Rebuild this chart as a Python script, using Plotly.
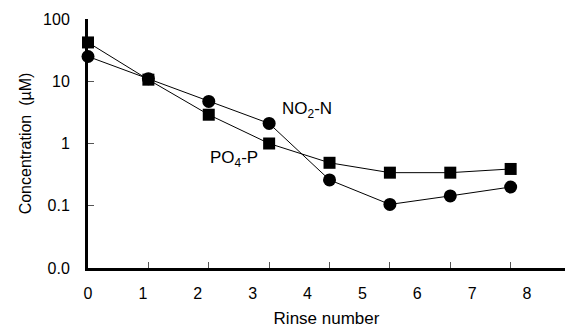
import plotly.graph_objects as go

rinse = [0, 1, 2, 3, 4, 5, 6, 7]
no2_n = [25, 11, 4.75, 2.1, 0.26, 0.105, 0.144, 0.20]
po4_p = [42, 10.6, 2.9, 1.0, 0.49, 0.34, 0.34, 0.39]
x_labels = [0, 1, 2, 3, 4, 5, 6, 7, 8]
y_tickvals = [100, 10, 1, 0.1, 0.01]
y_ticktext = ["100", "10", "1", "0.1", "0.0"]

# the printed label scale is slightly narrower than the rinse-point spacing
LABEL_SCALE = 54.9 / 60.4

FONT = "Liberation Sans, Arial, sans-serif"

fig = go.Figure()
fig.add_trace(go.Scatter(
    x=rinse, y=no2_n, mode="lines+markers", name="NO2-N",
    line=dict(color="black", width=1),
    marker=dict(symbol="circle", size=13, color="black"),
    cliponaxis=False, showlegend=False))
fig.add_trace(go.Scatter(
    x=rinse, y=po4_p, mode="lines+markers", name="PO4-P",
    line=dict(color="black", width=1),
    marker=dict(symbol="square", size=12, color="black"),
    cliponaxis=False, showlegend=False))

fig.update_layout(
    width=569, height=330,
    margin=dict(l=88, r=4, t=19, b=62),
    paper_bgcolor="white", plot_bgcolor="white",
    font=dict(family=FONT, size=16, color="black"),
    xaxis=dict(
        range=[0, 7.9], showgrid=False, zeroline=False,
        showline=True, linecolor="black", linewidth=3,
        tickvals=[k * LABEL_SCALE for k in x_labels],
        ticktext=[str(k) for k in x_labels],
        ticks="", ticklabelstandoff=9, tickfont=dict(size=16),
        minor=dict(tickvals=rinse[1:], ticks="inside", ticklen=6,
                   tickwidth=1, tickcolor="#555", showgrid=False),
        title=dict(text="Rinse number", font=dict(size=17), standoff=11),
    ),
    yaxis=dict(
        type="log", range=[-2, 2], showgrid=False, zeroline=False,
        showline=True, linecolor="black", linewidth=3,
        tickvals=y_tickvals, ticktext=y_ticktext, ticks="",
        ticklabelstandoff=12, tickfont=dict(size=16),
        minor=dict(tickvals=[10, 1, 0.1], ticks="inside", ticklen=6,
                   tickwidth=1, tickcolor="#555", showgrid=False),
        title=dict(text="Concentration  (µM)", font=dict(size=16), standoff=8),
    ),
)

fig.add_annotation(x=3.18, y=0.544, xref="x", yref="y", text="NO<sub>2</sub>-N",
                   showarrow=False, xanchor="left", yanchor="middle",
                   font=dict(size=17))
fig.add_annotation(x=1.99, y=-0.25, xref="x", yref="y", text="PO<sub>4</sub>-P",
                   showarrow=False, xanchor="left", yanchor="middle",
                   font=dict(size=17))

fig.write_html(
    "out.html",
    config={"displayModeBar": False},
    post_script="document.body.style.margin='0';document.body.style.overflow='hidden';",
)
